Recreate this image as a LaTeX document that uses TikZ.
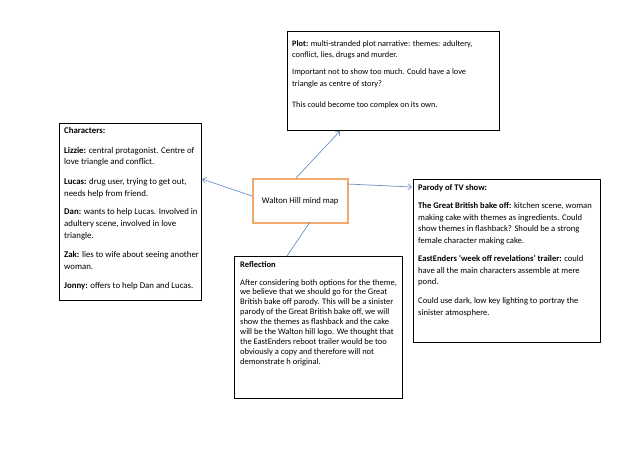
\documentclass[tikz,border=0pt]{standalone}
\usepackage{fontspec}
\setmainfont{Carlito}
\usetikzlibrary{arrows.meta}
\definecolor{linkblue}{RGB}{110,145,192}
\definecolor{hubor}{RGB}{240,170,110}
\tikzset{
  box/.style={draw=black,line width=1.1pt,rectangle,inner sep=0pt},
  txt/.style={anchor=north west,align=left,inner sep=0pt},
  link/.style={draw=linkblue,line width=0.7pt,-{Straight Barb[length=3.5pt,width=6pt]}},
}
\begin{document}
\begin{tikzpicture}[x=1pt,y=-1pt]
\useasboundingbox (0,0) rectangle (638,452);
% boxes
\node[box,minimum width=212pt,minimum height=99pt,anchor=north west] (plot) at (287,31) {};
\node[box,minimum width=142pt,minimum height=177pt,anchor=north west] (chars) at (59,123) {};
\node[box,minimum width=187pt,minimum height=163pt,anchor=north west] (parody) at (413,179) {};
\node[box,minimum width=168pt,minimum height=142pt,anchor=north west] (refl) at (234,256) {};
\node[draw=hubor,line width=1.5pt,rectangle,minimum width=95pt,minimum height=44pt,anchor=north west,inner sep=0pt] (hub) at (252,178) {};
\node[font=\fontsize{8.7}{10}\selectfont,inner sep=0pt] (hubtxt) at (hub.center) {Walton Hill mind map};
% texts
\node[txt,font=\fontsize{8.3}{11.6}\selectfont] (plottxt) at (292,40) {\textbf{Plot:} multi-stranded plot narrative: themes: adultery,\\
conflict, lies, drugs and murder.\\[5.5pt]
Important not to show too much. Could have a love\\
triangle as centre of story?\\[10pt]
This could become too complex on its own.};
\node[txt,font=\fontsize{8.8}{11.8}\selectfont] (charstxt) at (64,127) {\textbf{Characters:}\\[8pt]
\textbf{Lizzie:} central protagonist. Centre of\\
love triangle and conflict.\\[7.5pt]
\textbf{Lucas:} drug user, trying to get out,\\
needs help from friend.\\[7pt]
\textbf{Dan:} wants to help Lucas. Involved in\\
adultery scene, involved in love\\
triangle.\\[7.5pt]
\textbf{Zak:} lies to wife about seeing another\\
woman.\\[7.5pt]
\textbf{Jonny:} offers to help Dan and Lucas.};
\node[txt,font=\fontsize{8.6}{11.5}\selectfont] (parodytxt) at (418,184) {\textbf{Parody of TV show:}\\[7pt]
\textbf{The Great British bake off:} kitchen scene, woman\\
making cake with themes as ingredients. Could\\
show themes in flashback? Should be a strong\\
female character making cake.\\[7pt]
\textbf{EastEnders `week off revelations' trailer:} could\\
have all the main characters assemble at mere\\
pond.\\[7.5pt]
Could use dark, low key lighting to portray the\\
sinister atmosphere.};
\node[txt,font=\fontsize{8.5}{9.9}\selectfont] (refltxt) at (240,261) {\textbf{Reflection}\\[8pt]
After considering both options for the theme,\\
we believe that we should go for the Great\\
British bake off parody. This will be a sinister\\
parody of the Great British bake off, we will\\
show the themes as flashback and the cake\\
will be the Walton hill logo. We thought that\\
the EastEnders reboot trailer would be too\\
obviously a copy and therefore will not\\
demonstrate h original.};
% connectors
\coordinate (hubtop) at (296,178);
\coordinate (hubleft) at (252,196);
\coordinate (hubright) at (347,184);
\coordinate (hubbot) at (310,222);
\coordinate (plotin) at (340,131);
\coordinate (charsin) at (202,179);
\coordinate (parodyin) at (412,187);
\coordinate (reflin) at (287,256);
\draw[link] (hubtop) -- (plotin);
\draw[link] (hubleft) -- (charsin);
\draw[link] (hubright) -- (parodyin);
\draw[draw=linkblue,line width=0.7pt] (hubbot) -- (reflin);
\end{tikzpicture}
\end{document}
